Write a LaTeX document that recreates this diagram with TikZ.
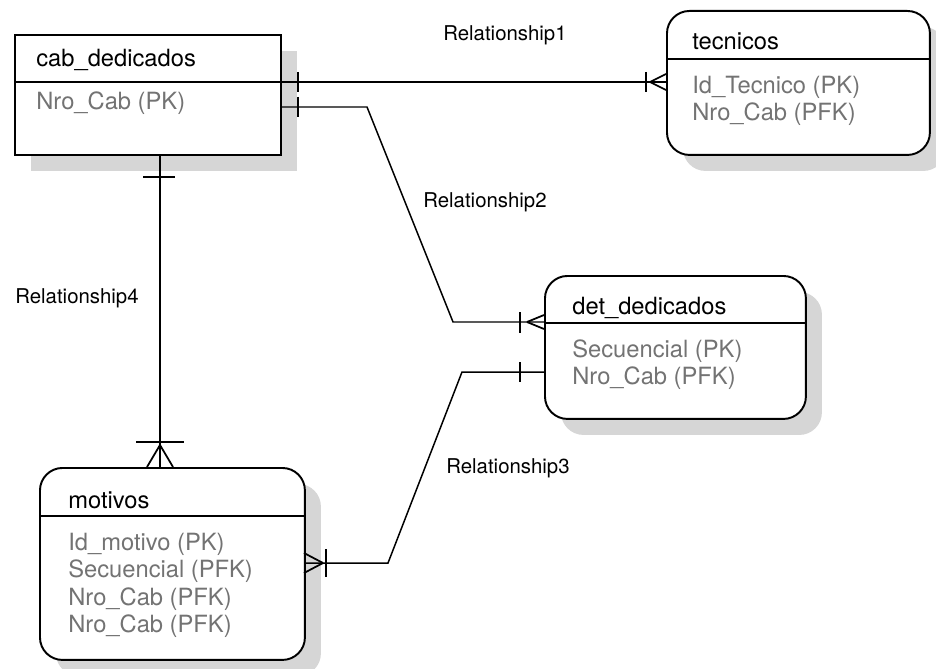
\documentclass[tikz,border=0pt]{standalone}
\usepackage{fontspec}
\setmainfont{TeX Gyre Heros}
\usepackage{tikz}
\usetikzlibrary{positioning}
\usetikzlibrary{shadows}
\definecolor{mgray}{rgb}{0.45, 0.45, 0.45}
\definecolor{mshadow}{rgb}{0.84, 0.84, 0.84}

\tikzset{
  entity/.style={draw, line width=1.1pt, fill=white, anchor=north west, inner sep=0pt,
    general shadow={fill=mshadow, shadow xshift=0.32cm, shadow yshift=-0.32cm}},
  roundent/.style={entity, rounded corners=0.45cm},
  title/.style={anchor=base west, inner sep=0pt, font=\fontsize{13.5}{15}\selectfont},
  attr/.style={title, text=mgray},
  rel/.style={inner sep=0pt, font=\fontsize{11.6}{13}\selectfont},
  conn/.style={line width=0.85pt},
  tickmark/.style={line width=1pt}
}

\begin{document}
\begin{tikzpicture}[x=0.02cm, y=-0.02cm]
    \useasboundingbox (0, 0) rectangle (936, 669);

    % entities
    \node [entity, minimum width=5.32cm, minimum height=2.4cm] (cab) at (14, 34) {};
    \node [roundent, minimum width=5.26cm, minimum height=2.88cm] (tec) at (666, 10) {};
    \node [roundent, minimum width=5.22cm, minimum height=2.86cm] (det) at (544, 275) {};
    \node [roundent, minimum width=5.3cm, minimum height=3.84cm] (mot) at (39, 467) {};

    \draw [line width=1.1pt] (cab.west |- 0, 82) -- (cab.east |- 0, 82);
    \draw [line width=1.1pt] (tec.west |- 0, 59) -- (tec.east |- 0, 59);
    \draw [line width=1.1pt] (det.west |- 0, 323) -- (det.east |- 0, 323);
    \draw [line width=1.1pt] (mot.west |- 0, 516) -- (mot.east |- 0, 516);

    \node [title] (cabname) at (36, 67) {cab\_dedicados};
    \node [attr] (cabpk) at (36, 110) {Nro\_Cab (PK)};

    \node [title] (tecname) at (692, 50) {tecnicos};
    \node [attr] (tecpk) at (692, 93) {Id\_Tecnico (PK)};
    \node [attr] (tecfk) at (692, 120) {Nro\_Cab (PFK)};

    \node [title] (detname) at (572, 314) {det\_dedicados};
    \node [attr] (detpk) at (572, 357) {Secuencial (PK)};
    \node [attr] (detfk) at (572, 384) {Nro\_Cab (PFK)};

    \node [title] (motname) at (68, 508) {motivos};
    \node [attr] (motpk) at (68, 550) {Id\_motivo (PK)};
    \node [attr] (motfk1) at (68, 577) {Secuencial (PFK)};
    \node [attr] (motfk2) at (68, 605) {Nro\_Cab (PFK)};
    \node [attr] (motfk3) at (68, 632) {Nro\_Cab (PFK)};

    % relationship1
    \draw [conn] (cab.east |- 0, 82) -- (tec.west |- 0, 82);
    \draw [tickmark] (298, 72) -- (298, 92);
    \draw [tickmark] (646, 72) -- (646, 92);
    \draw [tickmark] (650, 82) -- (666, 74) (650, 82) -- (666, 90);
    \node [rel] (rel1) at (505, 35) {Relationship1};

    % relationship2
    \draw [conn] (cab.east |- 0, 107) -- (367, 107) -- (453, 322) -- (det.west |- 0, 322);
    \draw [tickmark] (298, 97) -- (298, 117);
    \draw [tickmark] (520, 312) -- (520, 333);
    \draw [tickmark] (527, 322) -- (544, 315) (527, 322) -- (544, 329);
    \node [rel] (rel2) at (485, 202) {Relationship2};

    % relationship3
    \draw [conn] (det.west |- 0, 372) -- (462, 372) -- (388, 563) -- (mot.east |- 0, 563);
    \draw [tickmark] (520, 362) -- (520, 382);
    \draw [tickmark] (326, 549) -- (326, 577);
    \draw [tickmark] (323, 563) -- (304, 553) (323, 563) -- (304, 573);
    \node [rel] (rel3) at (508, 468) {Relationship3};

    % relationship4
    \draw [conn] (cab.south -| 160, 0) -- (mot.north -| 160, 0);
    \draw [tickmark] (143, 177) -- (175, 177);
    \draw [tickmark] (136, 442) -- (184, 442);
    \draw [tickmark] (160, 445) -- (147, 467) (160, 445) -- (173, 467);
    \node [rel] (rel4) at (77, 298) {Relationship4};
  \end{tikzpicture}
\end{document}
